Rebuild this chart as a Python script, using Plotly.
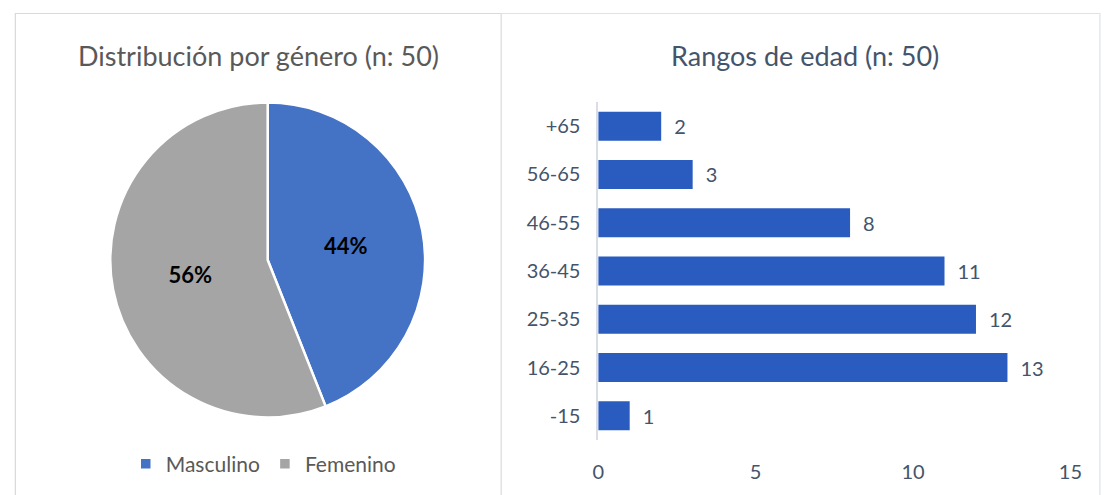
import plotly.graph_objects as go

# ---- data ----
gender_labels = ["Masculino", "Femenino"]
gender_values = [22, 28]
gender_colors = ["#4472C4", "#A5A5A5"]

age_categories = ["-15", "16-25", "25-35", "36-45", "46-55", "56-65", "+65"]
age_values = [1, 13, 12, 11, 8, 3, 2]

W, H = 1108, 495
FONT = "Lato"

def px_x(x):
    return x / W

def px_y(y):
    return 1 - y / H

fig = go.Figure()

fig.add_trace(go.Pie(
    labels=gender_labels,
    values=gender_values,
    marker=dict(colors=gender_colors, line=dict(color="white", width=2.5)),
    sort=False,
    direction="clockwise",
    rotation=0,
    texttemplate="<b>%{percent:.0%}</b>",
    textposition="inside",
    insidetextorientation="horizontal",
    textfont=dict(family=FONT, size=22, color="#000000"),
    domain=dict(x=[px_x(106), px_x(426)], y=[px_y(420), px_y(100)]),
    showlegend=True,
    hoverinfo="label+percent",
))

fig.add_trace(go.Bar(
    x=age_values,
    y=age_categories,
    orientation="h",
    marker=dict(color="#2A5CC0", line=dict(width=0)),
    texttemplate="\u2002%{x}",
    textposition="outside",
    textfont=dict(family=FONT, size=20, color="#44546A"),
    cliponaxis=False,
    showlegend=False,
    xaxis="x", yaxis="y",
))

fig.update_layout(
    width=W, height=H,
    margin=dict(l=0, r=0, t=0, b=0),
    paper_bgcolor="white",
    plot_bgcolor="white",
    font=dict(family=FONT, color="#595959"),
    bargap=0.4,
    xaxis=dict(
        domain=[px_x(602), px_x(1082)],
        range=[0, 15],
        tickvals=[0, 5, 10, 15],
        showgrid=False, zeroline=False, showline=False,
        ticks="",
        ticklabelstandoff=18,
        tickfont=dict(family=FONT, size=20, color="#44546A"),
        anchor="y",
        fixedrange=True,
    ),
    yaxis=dict(
        domain=[px_y(440), px_y(102)],
        showgrid=False, zeroline=False,
        showline=True, linecolor="#D9DEE6", linewidth=1.5,
        ticks="",
        ticklabelstandoff=12,
        tickfont=dict(family=FONT, size=20, color="#44546A"),
        anchor="x",
        fixedrange=True,
    ),
    legend=dict(
        orientation="h",
        x=px_x(262), xanchor="center",
        y=px_y(464), yanchor="middle",
        font=dict(family=FONT, size=21, color="#595959"),
        bgcolor="rgba(0,0,0,0)",
    ),
    shapes=[
        dict(type="rect", xref="paper", yref="paper",
             x0=px_x(9.5), x1=px_x(503.5), y0=px_y(500), y1=px_y(13.5),
             line=dict(color="#D9D9D9", width=1.2), fillcolor="rgba(0,0,0,0)", layer="below"),
        dict(type="rect", xref="paper", yref="paper",
             x0=px_x(503.5), x1=px_x(1112), y0=px_y(500), y1=px_y(13.5),
             line=dict(color="#DDE3EA", width=1.2), fillcolor="rgba(0,0,0,0)", layer="below"),
    ],
    annotations=[
        dict(text="Distribución por género (n: 50)", xref="paper", yref="paper",
             x=px_x(257), y=px_y(55), xanchor="center", yanchor="middle",
             showarrow=False, font=dict(family=FONT, size=27, color="#595959")),
        dict(text="Rangos de edad (n: 50)", xref="paper", yref="paper",
             x=px_x(812), y=px_y(55), xanchor="center", yanchor="middle",
             showarrow=False, font=dict(family=FONT, size=27, color="#44546A")),
    ],
)

fig.write_html(
    "out.html",
    config={"displayModeBar": False},
    post_script="document.body.style.margin='0';document.body.style.padding='0';document.body.style.overflow='hidden';",
)
